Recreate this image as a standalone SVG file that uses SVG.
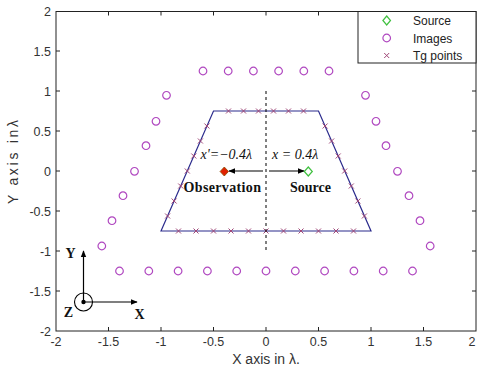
<svg xmlns="http://www.w3.org/2000/svg" width="477" height="369" viewBox="0 0 477 369">
<style>
.tick{font-family:"Liberation Sans",Arial,sans-serif;font-size:12.5px;fill:#333}
.lab{font-family:"Liberation Sans",Arial,sans-serif;font-size:14px;fill:#333}
.leg{font-family:"Liberation Sans",Arial,sans-serif;font-size:12px;fill:#222}
.img{fill:none;stroke:#b048c0;stroke-width:1.2}
.tg{stroke:#a04878;stroke-width:1;fill:none}
.ser{font-family:"Liberation Serif","Times New Roman",serif;font-size:14px;fill:#111}
.it{font-style:italic}
.bd{font-weight:bold}
.ax{stroke:#222;stroke-width:1;fill:none}
.arr{stroke:#000;stroke-width:1.2;fill:none}
</style>
<defs>
<marker id="ah" viewBox="0 0 10 10" refX="9" refY="5" markerWidth="7" markerHeight="7" orient="auto" markerUnits="userSpaceOnUse">
<path d="M0,1 L10,5 L0,9 z" fill="#000"/>
</marker>
<path id="xm" d="M-2.5,-2.5 L2.5,2.5 M-2.5,2.5 L2.5,-2.5" class="tg"/>
<circle id="cm" r="3.8" class="img"/>
</defs>
<rect x="0" y="0" width="477" height="369" fill="#fff"/>
<g id="axes">
<rect x="56" y="11.5" width="420" height="319.5" class="ax"/>
<path class="ax" d="M108.5,331v-4M161,331v-4M213.5,331v-4M266,331v-4M318.5,331v-4M371,331v-4M423.5,331v-4M108.5,11.5v4M161,11.5v4M213.5,11.5v4M266,11.5v4M318.5,11.5v4M371,11.5v4M423.5,11.5v4M56,291h4M56,251h4M56,211h4M56,171h4M56,131h4M56,91h4M56,51h4M476,291h-4M476,251h-4M476,211h-4M476,171h-4M476,131h-4M476,91h-4M476,51h-4"/>
<g class="tick" text-anchor="middle">
<text x="56" y="346">-2</text><text x="108.5" y="346">-1.5</text><text x="161" y="346">-1</text><text x="213.5" y="346">-0.5</text><text x="266" y="346">0</text><text x="318.5" y="346">0.5</text><text x="371" y="346">1</text><text x="423.5" y="346">1.5</text><text x="472" y="346">2</text>
</g>
<g class="tick" text-anchor="end">
<text x="51" y="16">2</text><text x="51" y="56">1.5</text><text x="51" y="96">1</text><text x="51" y="136">0.5</text><text x="51" y="176">0</text><text x="51" y="216">-0.5</text><text x="51" y="256">-1</text><text x="51" y="296">-1.5</text><text x="51" y="336">-2</text>
</g>
<text class="lab" x="266" y="364" text-anchor="middle">X axis in λ.</text>
<text class="lab" transform="translate(18,162) rotate(-90)" text-anchor="middle" textLength="84">Y axis inλ</text>
</g>
<g id="images">
<use href="#cm" x="203" y="71"/><use href="#cm" x="228.2" y="71"/><use href="#cm" x="253.4" y="71"/><use href="#cm" x="278.6" y="71"/><use href="#cm" x="303.8" y="71"/><use href="#cm" x="329" y="71"/>
<use href="#cm" x="166.5" y="95.3"/><use href="#cm" x="156" y="121.3"/><use href="#cm" x="146" y="145.7"/><use href="#cm" x="134.5" y="171.3"/><use href="#cm" x="123" y="195.7"/><use href="#cm" x="112" y="220.7"/><use href="#cm" x="101.8" y="246"/>
<use href="#cm" x="365.5" y="95.3"/><use href="#cm" x="376" y="121.3"/><use href="#cm" x="386" y="145.7"/><use href="#cm" x="397.5" y="171.3"/><use href="#cm" x="409" y="195.7"/><use href="#cm" x="420" y="220.7"/><use href="#cm" x="430.2" y="246"/>
<use href="#cm" x="119.5" y="271"/><use href="#cm" x="148.8" y="271"/><use href="#cm" x="178.1" y="271"/><use href="#cm" x="207.4" y="271"/><use href="#cm" x="236.7" y="271"/><use href="#cm" x="266" y="271"/><use href="#cm" x="295.3" y="271"/><use href="#cm" x="324.6" y="271"/><use href="#cm" x="353.9" y="271"/><use href="#cm" x="383.2" y="271"/><use href="#cm" x="412.5" y="271"/>
</g>
<g id="boundary">
<path d="M161,231 L213.5,111 L318.5,111 L371,231 Z" fill="none" stroke="#2a2a8c" stroke-width="1.2"/>
</g>
<g id="tgpoints">
<use href="#xm" x="228.5" y="111"/><use href="#xm" x="243.5" y="111"/><use href="#xm" x="258.5" y="111"/><use href="#xm" x="273.5" y="111"/><use href="#xm" x="288.5" y="111"/><use href="#xm" x="303.5" y="111"/>
<use href="#xm" x="178.5" y="231"/><use href="#xm" x="196" y="231"/><use href="#xm" x="213.5" y="231"/><use href="#xm" x="231" y="231"/><use href="#xm" x="248.5" y="231"/><use href="#xm" x="266" y="231"/><use href="#xm" x="283.5" y="231"/><use href="#xm" x="301" y="231"/><use href="#xm" x="318.5" y="231"/><use href="#xm" x="336" y="231"/><use href="#xm" x="353.5" y="231"/>
<use href="#xm" x="206.9" y="126"/><use href="#xm" x="200.4" y="141"/><use href="#xm" x="193.8" y="156"/><use href="#xm" x="187.3" y="171"/><use href="#xm" x="180.7" y="186"/><use href="#xm" x="174.1" y="201"/><use href="#xm" x="167.6" y="216"/>
<use href="#xm" x="325.1" y="126"/><use href="#xm" x="331.6" y="141"/><use href="#xm" x="338.2" y="156"/><use href="#xm" x="344.7" y="171"/><use href="#xm" x="351.3" y="186"/><use href="#xm" x="357.9" y="201"/><use href="#xm" x="364.4" y="216"/>
</g>
<g id="connectors">
<line x1="266" y1="91" x2="266" y2="252" stroke="#000" stroke-width="1" stroke-dasharray="3,3"/>
<line x1="263" y1="171" x2="229" y2="171" class="arr" marker-end="url(#ah)"/>
<line x1="269" y1="171" x2="304" y2="171" class="arr" marker-end="url(#ah)"/>
<line x1="83.5" y1="302" x2="83.5" y2="251" class="arr" marker-end="url(#ah)"/>
<line x1="83.5" y1="302" x2="137" y2="302" class="arr" marker-end="url(#ah)"/>
</g>
<g id="observation">
<path d="M224.3,167 L228.5,171.5 L224.3,176 L220.1,171.5 Z" fill="#e02000" stroke="#8a4a00" stroke-width="0.8"/>
<text class="ser it" x="200.5" y="159">x'=−0.4λ</text>
<text class="ser bd" x="183.5" y="192" textLength="77.5">Observation</text>
</g>
<g id="source">
<path d="M308.3,167 L312.3,171.5 L308.3,176 L304.3,171.5 Z" fill="none" stroke="#40c040" stroke-width="1.2"/>
<text class="ser it" x="272" y="159">x = 0.4λ</text>
<text class="ser bd" x="290" y="192">Source</text>
</g>
<g id="frame">
<circle cx="83.5" cy="302" r="9" fill="none" stroke="#000" stroke-width="1.1"/>
<circle cx="83.5" cy="302" r="2.2" fill="#000"/>
<text class="ser bd" x="70.5" y="258" text-anchor="middle">Y</text>
<text class="ser bd" x="68.5" y="317" text-anchor="middle">Z</text>
<text class="ser bd" x="139.5" y="319" text-anchor="middle">X</text>
</g>
<g id="legend">
<rect x="358" y="11.5" width="118" height="51.5" fill="#fff" stroke="#222" stroke-width="1"/>
<path d="M386.7,16 L390.5,20.5 L386.7,25 L382.9,20.5 Z" fill="none" stroke="#40c040" stroke-width="1.2"/>
<use href="#cm" x="386.7" y="38"/>
<use href="#xm" x="386.7" y="55.5"/>
<text class="leg" x="413" y="25">Source</text>
<text class="leg" x="413" y="42.5">Images</text>
<text class="leg" x="413" y="60">Tg points</text>
</g>
</svg>
